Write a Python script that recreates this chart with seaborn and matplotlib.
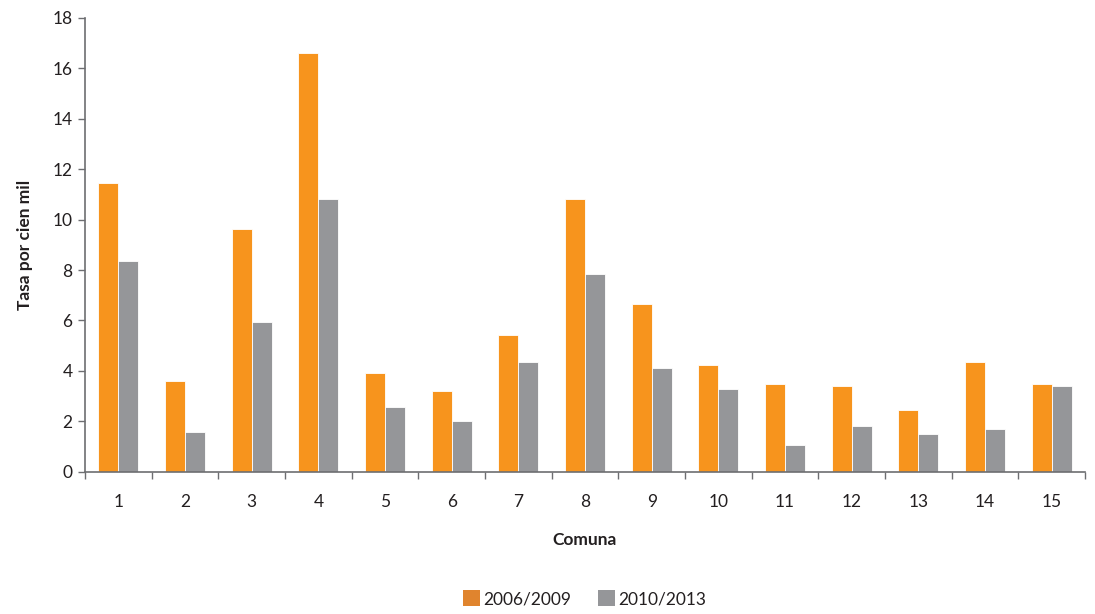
import matplotlib
matplotlib.use("Agg")
import matplotlib.pyplot as plt
import seaborn as sns
import pandas as pd
import numpy as np
from matplotlib.patches import Patch

comunas = [str(i) for i in range(1, 16)]
tasa_2006_2009 = [11.45, 3.60, 9.63, 16.63, 3.92, 3.19, 5.41, 10.81, 6.67, 4.24, 3.49, 3.39, 2.44, 4.34, 3.49]
tasa_2010_2013 = [8.36, 1.59, 5.93, 10.81, 2.56, 2.01, 4.34, 7.84, 4.13, 3.28, 1.06, 1.80, 1.48, 1.70, 3.39]
series = ["2006/2009", "2010/2013"]
bar_colors = ["#F7941D", "#959699"]
legend_colors = ["#E0842E", "#959699"]

df = pd.DataFrame({
    "Comuna": comunas * 2,
    "Tasa": tasa_2006_2009 + tasa_2010_2013,
    "Periodo": [series[0]] * len(comunas) + [series[1]] * len(comunas),
})

sns.set_style("white")
plt.rcParams["font.family"] = ["Lato", "DejaVu Sans"]
text_color = "#231F20"

fig = plt.figure(figsize=(10.95, 6.14), dpi=100)
ax = fig.add_axes([0.0776, 0.2318, 0.9134, 0.7389])

sns.barplot(data=df, x="Comuna", y="Tasa", hue="Periodo", order=comunas,
            hue_order=series, palette=bar_colors, saturation=1, width=0.6,
            edgecolor="white", linewidth=0.6, ax=ax, legend=False)

ax.set_xlim(-0.5, len(comunas) - 0.5)
ax.set_ylim(0, 18)
ax.set_yticks(np.arange(0, 19, 2))
ax.tick_params(axis="y", which="major", left=True, direction="out", length=5, width=1,
               color="#6D6E71", labelsize=12.5, labelcolor=text_color, pad=4)
ax.tick_params(axis="x", which="major", bottom=False, length=0, labelsize=12.5,
               labelcolor=text_color, pad=16)
ax.set_xticks(np.arange(-0.5, len(comunas), 1), minor=True)
ax.tick_params(axis="x", which="minor", bottom=True, direction="out", length=5, width=1,
               color="#6D6E71")

for side in ["top", "right"]:
    ax.spines[side].set_visible(False)
for side in ["left", "bottom"]:
    ax.spines[side].set_color("#6D6E71")
    ax.spines[side].set_linewidth(1.2)

ax.set_xlabel("Comuna", fontsize=12.5, fontweight="bold", color=text_color, labelpad=16)
ax.set_ylabel("Tasa por cien mil", fontsize=12.5, fontweight="bold", color=text_color, labelpad=14)

handles = [Patch(facecolor=c, edgecolor="none") for c in legend_colors]
fig.legend(handles, series, loc="center", bbox_to_anchor=(0.534, 0.025), ncol=2,
           frameon=False, fontsize=12.5, handlelength=1.0, handleheight=1.0,
           handletextpad=0.2, columnspacing=1.5, labelcolor=text_color)

fig.savefig("out.png", dpi=100)
